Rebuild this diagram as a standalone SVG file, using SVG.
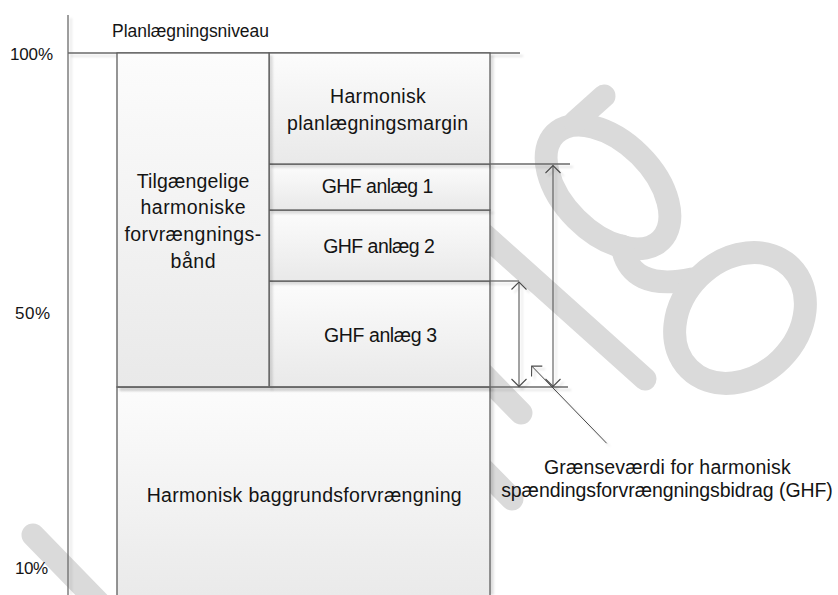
<svg xmlns="http://www.w3.org/2000/svg" width="838" height="595" viewBox="0 0 838 595">
  <defs>
    <linearGradient id="boxFill" x1="0" y1="0" x2="0" y2="1">
      <stop offset="0" stop-color="#fcfcfc"/>
      <stop offset="1" stop-color="#e9e9e9"/>
    </linearGradient>
    <filter id="shadow" filterUnits="userSpaceOnUse" x="0" y="0" width="838" height="595">
      <feOffset in="SourceAlpha" dx="2.5" dy="2.5" result="off"/>
      <feGaussianBlur in="off" stdDeviation="0.8" result="blur"/>
      <feFlood flood-color="#000" flood-opacity="0.13"/>
      <feComposite in2="blur" operator="in" result="shade"/>
      <feMerge>
        <feMergeNode in="shade"/>
        <feMergeNode in="SourceGraphic"/>
      </feMerge>
    </filter>
    <marker id="chev" viewBox="-10 -10 12 20" markerWidth="12" markerHeight="20" markerUnits="userSpaceOnUse" orient="auto-start-reverse" refX="0" refY="0">
      <path d="M -7.5,-7.5 L 0,0 L -7.5,7.5" fill="none" stroke="#4a4a4a" stroke-width="1.1"/>
    </marker>
    <style>
      .box { fill: url(#boxFill); stroke: #5e5e5e; stroke-width: 1.3; filter: url(#shadow); }
      .rule { stroke: #6a6a6a; stroke-width: 1.3; fill: none; filter: url(#shadow); }
      .dim { stroke: #474747; stroke-width: 1; fill: none; filter: url(#shadow); }
      .wm { fill: none; stroke: #dadada; stroke-width: 23; stroke-linecap: round; }
      text { font-family: "Liberation Sans", Arial, sans-serif; fill: #141414; }
      .lbl { font-size: 17.5px; }
      .in { font-size: 19.5px; text-anchor: middle; }
    </style>
  </defs>

  <rect width="838" height="595" fill="#ffffff"/>

  <!-- background watermark strokes -->
  <g id="watermark">
    <path class="wm" d="M 33,535 L 140,645"/>
    <path class="wm" d="M 400,385 L 512,499"/>
    <path class="wm" d="M 430,320 L 521,413"/>
    <path class="wm" d="M 470,222 L 645,379"/>
    <ellipse class="wm" cx="608" cy="187" rx="75" ry="45" transform="rotate(45 608 187)"/>
    <path class="wm" d="M 575,122 L 604,96"/>
    <path class="wm" d="M 622,246 Q 630,292 692,279"/>
    <ellipse class="wm" cx="740" cy="318" rx="72" ry="58" transform="rotate(-45 740 318)"/>
  </g>

  <!-- axes -->
  <g id="axes">
    <line class="rule" x1="68" y1="15" x2="68" y2="600"/>
    <line class="rule" x1="68" y1="53" x2="520" y2="53"/>
    <text class="lbl" x="112" y="36.5" textLength="157">Planlægningsniveau</text>
    <text class="lbl" x="10" y="60" textLength="43" style="font-size:17px">100%</text>
    <text class="lbl" x="15" y="318.5" textLength="35" style="font-size:17px">50%</text>
    <text class="lbl" x="15" y="573.5" textLength="33" style="font-size:17px">10%</text>
  </g>

  <!-- stacked bands -->
  <g id="background-distortion">
    <rect class="box" x="117" y="387" width="373" height="220"/>
    <text class="in" x="304.2" y="502" textLength="315">Harmonisk baggrundsforvrængning</text>
  </g>
  <g id="ghf-3">
    <rect class="box" x="269" y="281" width="221" height="106"/>
    <text class="in" x="380.5" y="341.5" textLength="113">GHF anlæg 3</text>
  </g>
  <g id="ghf-2">
    <rect class="box" x="269" y="210" width="221" height="71"/>
    <text class="in" x="379" y="253.3" textLength="111.7">GHF anlæg 2</text>
  </g>
  <g id="ghf-1">
    <rect class="box" x="269" y="164" width="221" height="46"/>
    <text class="in" x="377.5" y="193.3" textLength="111.6">GHF anlæg 1</text>
  </g>
  <g id="planning-margin">
    <rect class="box" x="269" y="53" width="221" height="111"/>
    <text class="in" x="377.9" y="103" textLength="95.7">Harmonisk</text>
    <text class="in" x="377.5" y="130" textLength="181">planlægningsmargin</text>
  </g>
  <g id="available-band">
    <rect class="box" x="117" y="53" width="152" height="334"/>
    <text class="in" x="193" y="188" textLength="112.6">Tilgængelige</text>
    <text class="in" x="193" y="214" textLength="105">harmoniske</text>
    <text class="in" x="192.8" y="241" textLength="136.7">forvrængnings-</text>
    <text class="in" x="193" y="267.5" textLength="45">bånd</text>
  </g>

  <!-- extension lines, dimension arrows and leader -->
  <g id="connectors">
    <line class="rule" x1="490" y1="164" x2="570" y2="164"/>
    <line class="rule" x1="490" y1="281" x2="519" y2="281"/>
    <line class="rule" x1="117" y1="387" x2="568" y2="387"/>
    <line class="dim" x1="553" y1="165.5" x2="553" y2="386.5" marker-start="url(#chev)" marker-end="url(#chev)"/>
    <line class="dim" x1="519" y1="282" x2="519" y2="386.5" marker-start="url(#chev)" marker-end="url(#chev)"/>
    <line class="dim" x1="606.7" y1="443.3" x2="531.7" y2="366" marker-end="url(#chev)"/>
  </g>

  <g id="limit-label">
    <text class="in" x="667.3" y="473.5" textLength="246.7">Grænseværdi for harmonisk</text>
    <text class="in" x="667" y="497" textLength="331.7">spændingsforvrængningsbidrag (GHF)</text>
  </g>
</svg>
